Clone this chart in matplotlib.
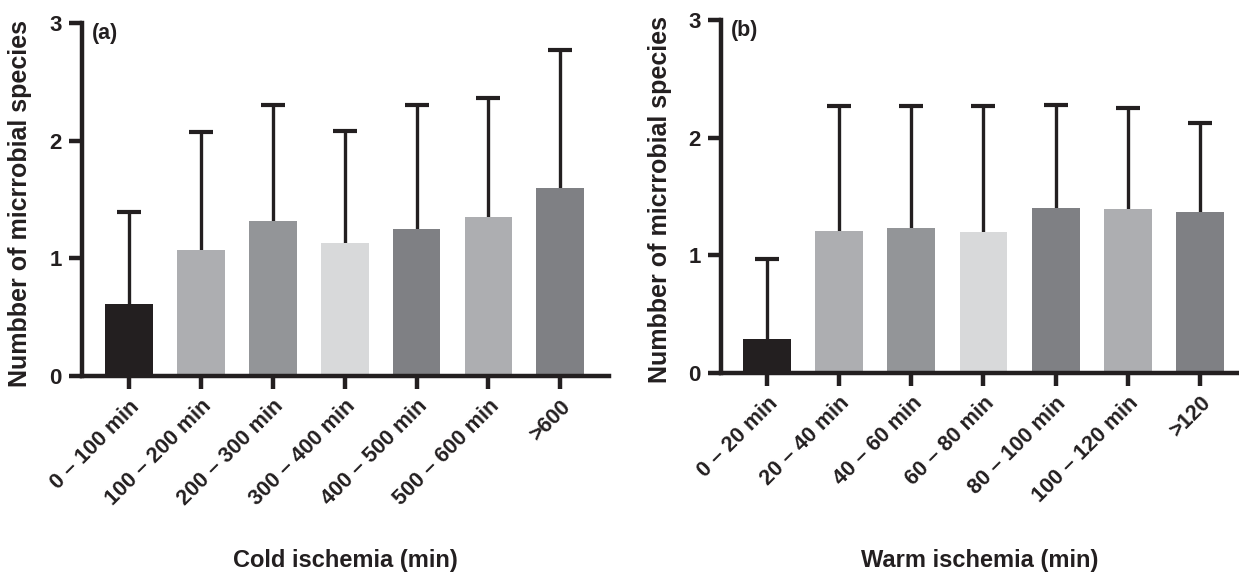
import matplotlib
matplotlib.use("Agg")
import matplotlib.pyplot as plt
import numpy as np

plt.rcParams["font.family"] = ["Liberation Sans", "DejaVu Sans"]
plt.rcParams["font.weight"] = "bold"

INK = "#231f20"

# ── Data ─────────────────────────────────────────────────────────────────────
cold_labels = ["0 – 100 min", "100 – 200 min", "200 – 300 min", "300 – 400 min",
               "400 – 500 min", "500 – 600 min", ">600"]
cold_mean = [0.61, 1.07, 1.32, 1.13, 1.25, 1.35, 1.595]
cold_top = [1.39, 2.07, 2.30, 2.08, 2.305, 2.36, 2.77]

warm_labels = ["0 – 20 min", "20 – 40 min", "40 – 60 min", "60 – 80 min",
               "80 – 100 min", "100 – 120 min", ">120"]
warm_mean = [0.29, 1.205, 1.23, 1.195, 1.40, 1.39, 1.365]
warm_top = [0.97, 2.27, 2.265, 2.265, 2.275, 2.25, 2.12]

bar_colors = ["#231f20", "#adaeb1", "#939598", "#d8d9da", "#7f8084", "#adaeb1", "#7f8084"]

fig = plt.figure(figsize=(12.39, 5.73), dpi=100)
ax_a = fig.add_axes([0.0659, 0.3438, 0.4256, 0.6160])
ax_b = fig.add_axes([0.5819, 0.3496, 0.4181, 0.6155])


def draw_panel(ax, labels, mean, top, tag, xlabel, xlim, xlabel_y):
    x = np.arange(len(labels))
    mean = np.asarray(mean)
    sd = np.asarray(top) - mean
    ax.bar(x, mean, width=0.665, color=bar_colors, zorder=2)
    eb = ax.errorbar(x, mean, yerr=[np.zeros_like(sd), sd], fmt="none",
                     ecolor=INK, elinewidth=2.4, capsize=8.5, capthick=3.0,
                     zorder=1)
    # only the upper whisker is shown
    for cap in eb[1]:
        if np.allclose(cap.get_ydata(), mean):
            cap.set_visible(False)

    ax.set_xlim(*xlim)
    ax.set_ylim(0, 3)
    ax.set_yticks([0, 1, 2, 3])
    ax.set_xticks(x)
    ax.set_xticklabels(labels, rotation=45, ha="right", va="top",
                       rotation_mode="anchor", fontsize=15.5, fontweight="bold",
                       color=INK)
    for lab in ax.get_yticklabels():
        lab.set_fontsize(16)
        lab.set_fontweight("bold")
        lab.set_color(INK)

    for side in ("top", "right"):
        ax.spines[side].set_visible(False)
    for side in ("left", "bottom"):
        ax.spines[side].set_linewidth(3.2)
        ax.spines[side].set_color(INK)
        ax.spines[side].set_capstyle("projecting")
    ax.tick_params(axis="both", length=9.4, width=3.2, color=INK)
    ax.tick_params(axis="y", pad=5)
    ax.tick_params(axis="x", pad=5)

    ax.set_ylabel("Numbber of micrrobial species", fontsize=18,
                  fontweight="bold", color=INK)
    ax.yaxis.set_label_coords(-0.094, 0.49)
    ax.set_xlabel(xlabel, fontsize=17, fontweight="bold", color=INK)
    ax.xaxis.set_label_coords(0.5, xlabel_y)

    ax.text(0.02, 1.0, tag, transform=ax.transAxes, ha="left", va="top",
            fontsize=15.5, fontweight="bold", color=INK)


draw_panel(ax_a, cold_labels, cold_mean, cold_top, "(a)",
           "Cold ischemia (min)", (-0.658, 6.676), -0.49)
draw_panel(ax_b, warm_labels, warm_mean, warm_top, "(b)",
           "Warm ischemia (min)", (-0.642, 6.545), -0.50)

fig.savefig("out.png", dpi=100)
